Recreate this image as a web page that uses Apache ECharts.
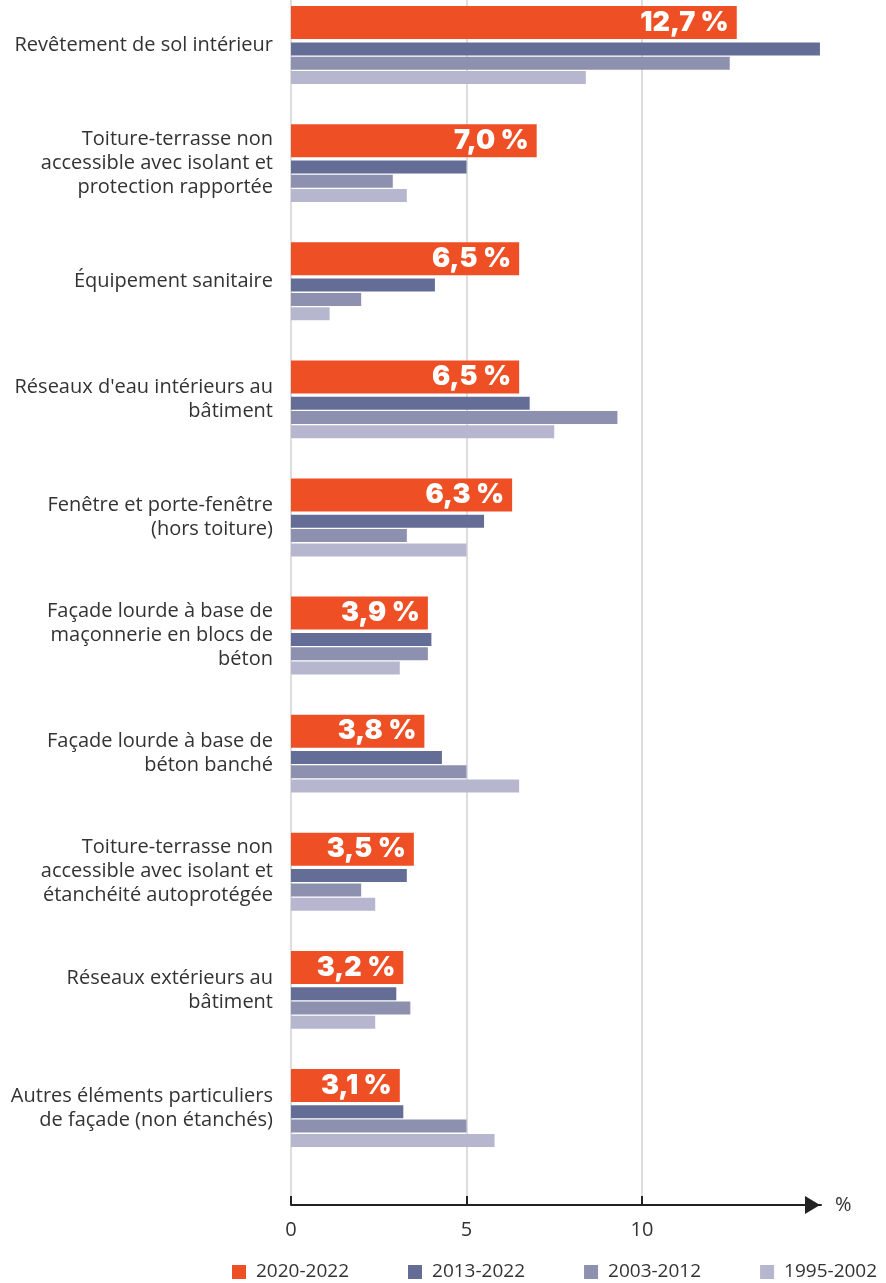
<!DOCTYPE html>
<html>
<head>
<meta charset="utf-8">
<script src="https://cdn.jsdelivr.net/npm/echarts@6/dist/echarts.min.js"></script>
<style>
html,body{margin:0;padding:0;background:#fff;}
#chart{width:886px;height:1283px;}
</style>
</head>
<body>
<div id="chart"></div>
<script>
var categories = [
  "Revêtement de sol intérieur",
  "Toiture-terrasse non\naccessible avec isolant et\nprotection rapportée",
  "Équipement sanitaire",
  "Réseaux d'eau intérieurs au\nbâtiment",
  "Fenêtre et porte-fenêtre\n(hors toiture)",
  "Façade lourde à base de\nmaçonnerie en blocs de\nbéton",
  "Façade lourde à base de\nbéton banché",
  "Toiture-terrasse non\naccessible avec isolant et\nétanchéité autoprotégée",
  "Réseaux extérieurs au\nbâtiment",
  "Autres éléments particuliers\nde façade (non étanchés)"
];
var seriesNames = ["2020-2022", "2013-2022", "2003-2012", "1995-2002"];
var v2020 = [12.7, 7.0, 6.5, 6.5, 6.3, 3.9, 3.8, 3.5, 3.2, 3.1];
var v2013 = [15.07, 5.0, 4.1, 6.8, 5.5, 4.0, 4.3, 3.3, 3.0, 3.2];
var v2003 = [12.5, 2.9, 2.0, 9.3, 3.3, 3.9, 5.0, 2.0, 3.4, 5.0];
var v1995 = [8.4, 3.3, 1.1, 7.5, 5.0, 3.1, 6.5, 2.4, 2.4, 5.8];
var tickValues = [0, 5, 10];

var colors = ["#EF4F24", "#646D96", "#8D90AF", "#B6B7CF"];
var FONT = "'Open Sans', 'Noto Sans', sans-serif";
var XMAX = 15.1;

var chart = echarts.init(document.getElementById('chart'), null, {renderer: 'canvas'});

var option = {
  animation: false,
  backgroundColor: '#fff',
  color: colors,
  grid: [
    {left: 291, right: 65, top: -14, bottom: 116, containLabel: false, outerBoundsMode: 'none'},
    {left: 291, right: 65, top: 0, bottom: 78, containLabel: false, outerBoundsMode: 'none'}
  ],
  legend: {
    data: seriesNames,
    left: 232,
    top: 1260,
    padding: 0,
    itemWidth: 14,
    itemHeight: 14,
    itemGap: 59,
    icon: 'rect',
    textStyle: {fontFamily: FONT, fontSize: 19, lineHeight: 24, color: '#333', padding: [0, 0, 0, 5]}
  },
  xAxis: [
    {gridIndex: 0, type: 'value', min: 0, max: XMAX, show: false},
    {
      gridIndex: 1, type: 'value', min: 0, max: XMAX,
      name: '%', nameLocation: 'end', nameGap: 14,
      nameTextStyle: {fontFamily: FONT, fontSize: 20, color: '#333', verticalAlign: 'middle'},
      axisLine: {show: true, lineStyle: {color: '#222', width: 2},
        symbol: ['none', 'triangle'], symbolSize: [18, 15], symbolOffset: [0, -8.5]},
      axisTick: {show: true, inside: true, length: 9, lineStyle: {color: '#222', width: 2}, customValues: tickValues},
      axisLabel: {show: true, margin: 15, fontFamily: FONT, fontSize: 20, color: '#333', customValues: tickValues},
      splitLine: {show: true, lineStyle: {color: '#d2d2d2', width: 1.5}}
    }
  ],
  yAxis: [
    {
      gridIndex: 0, type: 'category', data: categories, inverse: true,
      axisLine: {show: false}, axisTick: {show: false},
      axisLabel: {margin: 18, fontFamily: FONT, fontSize: 20, lineHeight: 24, color: '#333', align: 'right'},
      splitLine: {show: false}
    },
    {gridIndex: 1, type: 'value', min: 0, max: 1, show: false}
  ],
  series: [
    {
      name: seriesNames[0], type: 'bar', xAxisIndex: 0, yAxisIndex: 0, data: v2020,
      barWidth: 33, barGap: '10%',
      itemStyle: {color: colors[0]},
      label: {
        show: true, position: 'insideRight', distance: 8,
        fontFamily: "Inter, 'Noto Sans', sans-serif", fontWeight: 900, fontSize: 27, color: '#fff',
        formatter: function (p) { return p.value.toFixed(1).replace('.', ',') + ' %'; }
      }
    },
    {name: seriesNames[1], type: 'bar', xAxisIndex: 0, yAxisIndex: 0, data: v2013, barWidth: 13, barGap: '10%', itemStyle: {color: colors[1]}},
    {name: seriesNames[2], type: 'bar', xAxisIndex: 0, yAxisIndex: 0, data: v2003, barWidth: 13, barGap: '10%', itemStyle: {color: colors[2]}},
    {name: seriesNames[3], type: 'bar', xAxisIndex: 0, yAxisIndex: 0, data: v1995, barWidth: 13, barGap: '10%', itemStyle: {color: colors[3]}}
  ]
};
chart.setOption(option);
</script>
</body>
</html>
